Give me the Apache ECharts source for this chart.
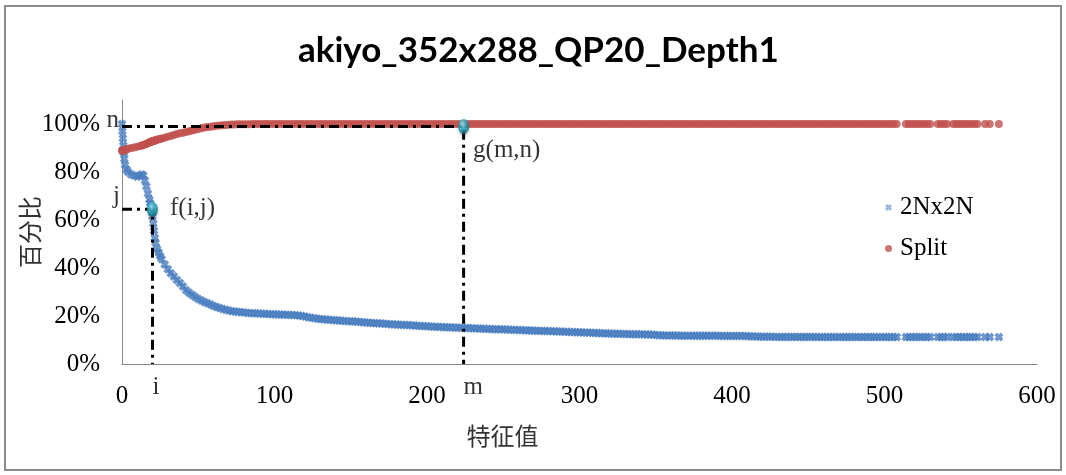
<!DOCTYPE html>
<html>
<head>
<meta charset="utf-8">
<script src="https://cdn.jsdelivr.net/npm/echarts@6/dist/echarts.min.js"></script>
<style>
  html, body { margin: 0; padding: 0; background: #ffffff; }
  #chart { width: 1066px; height: 475px; }
</style>
</head>
<body>
<div id="chart"></div>
<script>
// Feature value (x) shared by both series
const featureX = [
  0, 0.3, 0.6, 0.9, 1.2, 1.5, 2, 3, 4, 6,
  8, 10, 12, 13, 14, 15, 16, 17, 18, 18.5,
  19, 19.5, 20, 20.5, 21, 21.5, 22, 23, 24, 25,
  26, 28, 30, 32, 34, 36, 38, 40, 42, 44,
  46, 48, 50, 52, 54, 56, 58, 60, 62, 64,
  66, 68, 70, 72, 74, 76, 78, 80, 82, 84,
  86, 88, 90, 92, 94, 96, 98, 100, 102, 104,
  106, 108, 110, 112, 114, 116, 118, 120, 122, 124,
  126, 128, 130, 132, 134, 136, 138, 140, 142, 144,
  146, 148, 150, 152, 154, 156, 158, 160, 162, 164,
  166, 168, 170, 172, 174, 176, 178, 180, 182, 184,
  186, 188, 190, 192, 194, 196, 198, 200, 202, 204,
  206, 208, 210, 212, 214, 216, 218, 220, 222, 224,
  226, 228, 230, 232, 234, 236, 238, 240, 242, 244,
  246, 248, 250, 252, 254, 256, 258, 260, 262, 264,
  266, 268, 270, 272, 274, 276, 278, 280, 282, 284,
  286, 288, 290, 292, 294, 296, 298, 300, 302, 304,
  306, 308, 310, 312, 314, 316, 318, 320, 322, 324,
  326, 328, 330, 332, 334, 336, 338, 340, 342, 344,
  346, 348, 350, 352, 354, 356, 358, 360, 362, 364,
  366, 368, 370, 372, 374, 376, 378, 380, 382, 384,
  386, 388, 390, 392, 394, 396, 398, 400, 402, 404,
  406, 408, 410, 412, 414, 416, 418, 420, 422, 424,
  426, 428, 430, 432, 434, 436, 438, 440, 442, 444,
  446, 448, 450, 452, 454, 456, 458, 460, 462, 464,
  466, 468, 470, 472, 474, 476, 478, 480, 482, 484,
  486, 488, 490, 492, 494, 496, 498, 500, 502, 504,
  506, 508,
  514, 516, 518, 520, 522, 524, 526, 528, 530, 535,
  537, 539, 541, 545, 547, 549, 551, 553, 555, 557,
  559, 561, 566, 569, 575
];

// Share of 2Nx2N decisions
const share2Nx2N = [
  1.00, 0.97, 0.94, 0.91, 0.88, 0.855, 0.83, 0.81, 0.80, 0.79,
  0.785, 0.78, 0.785, 0.79, 0.785, 0.765, 0.74, 0.71, 0.685, 0.67,
  0.655, 0.64, 0.615, 0.585, 0.555, 0.525, 0.505, 0.48, 0.465, 0.45,
  0.437, 0.415, 0.395, 0.378, 0.365, 0.35, 0.337, 0.323, 0.307, 0.297,
  0.288, 0.279, 0.271, 0.265, 0.258, 0.253, 0.248, 0.242, 0.237, 0.233,
  0.229, 0.226, 0.223, 0.220, 0.219, 0.217, 0.216, 0.215, 0.213, 0.212,
  0.211, 0.211, 0.210, 0.209, 0.209, 0.208, 0.207, 0.207, 0.206, 0.206,
  0.205, 0.205, 0.204, 0.204, 0.203, 0.202, 0.200, 0.198, 0.195, 0.193,
  0.191, 0.189, 0.187, 0.186, 0.185, 0.184, 0.183, 0.182, 0.181, 0.180,
  0.179, 0.178, 0.178, 0.177, 0.176, 0.175, 0.174, 0.173, 0.172, 0.171,
  0.170, 0.170, 0.169, 0.168, 0.167, 0.166, 0.165, 0.165, 0.164, 0.163,
  0.162, 0.162, 0.161, 0.160, 0.159, 0.158, 0.158, 0.157, 0.156, 0.155,
  0.155, 0.154, 0.154, 0.153, 0.153, 0.152, 0.152, 0.151, 0.151, 0.150,
  0.150, 0.149, 0.149, 0.148, 0.148, 0.147, 0.147, 0.146, 0.146, 0.145,
  0.145, 0.145, 0.144, 0.144, 0.143, 0.143, 0.142, 0.142, 0.141, 0.141,
  0.140, 0.140, 0.139, 0.139, 0.138, 0.138, 0.137, 0.137, 0.136, 0.136,
  0.135, 0.135, 0.134, 0.134, 0.133, 0.133, 0.132, 0.132, 0.131, 0.131,
  0.130, 0.130, 0.129, 0.129, 0.128, 0.128, 0.127, 0.127, 0.126, 0.126,
  0.126, 0.125, 0.125, 0.125, 0.124, 0.124, 0.124, 0.124, 0.123, 0.123,
  0.123, 0.122, 0.121, 0.120, 0.120, 0.119, 0.119, 0.119, 0.119, 0.119,
  0.118, 0.118, 0.118, 0.118, 0.118, 0.118, 0.118, 0.118, 0.118, 0.118,
  0.118, 0.118, 0.118, 0.117, 0.117, 0.117, 0.117, 0.117, 0.117, 0.117,
  0.117, 0.117, 0.116, 0.116, 0.115, 0.115, 0.114, 0.114, 0.114, 0.114,
  0.114, 0.113, 0.113, 0.113, 0.113, 0.113, 0.113, 0.113, 0.113, 0.113,
  0.113, 0.113, 0.113, 0.113, 0.113, 0.112, 0.112, 0.112, 0.112, 0.112,
  0.112, 0.112, 0.112, 0.112, 0.112, 0.112, 0.112, 0.112, 0.112, 0.112,
  0.112, 0.112, 0.112, 0.112, 0.112, 0.112, 0.112, 0.112, 0.112, 0.112,
  0.112, 0.112,
  0.112, 0.112, 0.112, 0.112, 0.112, 0.112, 0.112, 0.112, 0.112, 0.112,
  0.112, 0.112, 0.112, 0.112, 0.112, 0.112, 0.112, 0.112, 0.112, 0.112,
  0.112, 0.112, 0.112, 0.112, 0.112
];

// Share of Split decisions
const shareSplit = [
  0.89, 0.89, 0.89, 0.89, 0.89, 0.89, 0.892, 0.895, 0.897, 0.90,
  0.902, 0.905, 0.908, 0.91, 0.912, 0.915, 0.918, 0.92, 0.923, 0.925,
  0.926, 0.927, 0.928, 0.929, 0.93, 0.931, 0.932, 0.934, 0.936, 0.938,
  0.940, 0.943, 0.947, 0.950, 0.954, 0.958, 0.961, 0.964, 0.967, 0.970,
  0.973, 0.976, 0.979, 0.982, 0.985, 0.987, 0.989, 0.991, 0.993, 0.994,
  0.995, 0.996, 0.997, 0.998, 0.998, 0.999, 0.999, 0.999, 0.999, 0.999,
  1.0, 1.0, 1.0, 1.0, 1.0, 1.0, 1.0, 1.0, 1.0, 1.0,
  1.0, 1.0, 1.0, 1.0, 1.0, 1.0, 1.0, 1.0, 1.0, 1.0,
  1.0, 1.0, 1.0, 1.0, 1.0, 1.0, 1.0, 1.0, 1.0, 1.0,
  1.0, 1.0, 1.0, 1.0, 1.0, 1.0, 1.0, 1.0, 1.0, 1.0,
  1.0, 1.0, 1.0, 1.0, 1.0, 1.0, 1.0, 1.0, 1.0, 1.0,
  1.0, 1.0, 1.0, 1.0, 1.0, 1.0, 1.0, 1.0, 1.0, 1.0,
  1.0, 1.0, 1.0, 1.0, 1.0, 1.0, 1.0, 1.0, 1.0, 1.0,
  1.0, 1.0, 1.0, 1.0, 1.0, 1.0, 1.0, 1.0, 1.0, 1.0,
  1.0, 1.0, 1.0, 1.0, 1.0, 1.0, 1.0, 1.0, 1.0, 1.0,
  1.0, 1.0, 1.0, 1.0, 1.0, 1.0, 1.0, 1.0, 1.0, 1.0,
  1.0, 1.0, 1.0, 1.0, 1.0, 1.0, 1.0, 1.0, 1.0, 1.0,
  1.0, 1.0, 1.0, 1.0, 1.0, 1.0, 1.0, 1.0, 1.0, 1.0,
  1.0, 1.0, 1.0, 1.0, 1.0, 1.0, 1.0, 1.0, 1.0, 1.0,
  1.0, 1.0, 1.0, 1.0, 1.0, 1.0, 1.0, 1.0, 1.0, 1.0,
  1.0, 1.0, 1.0, 1.0, 1.0, 1.0, 1.0, 1.0, 1.0, 1.0,
  1.0, 1.0, 1.0, 1.0, 1.0, 1.0, 1.0, 1.0, 1.0, 1.0,
  1.0, 1.0, 1.0, 1.0, 1.0, 1.0, 1.0, 1.0, 1.0, 1.0,
  1.0, 1.0, 1.0, 1.0, 1.0, 1.0, 1.0, 1.0, 1.0, 1.0,
  1.0, 1.0, 1.0, 1.0, 1.0, 1.0, 1.0, 1.0, 1.0, 1.0,
  1.0, 1.0, 1.0, 1.0, 1.0, 1.0, 1.0, 1.0, 1.0, 1.0,
  1.0, 1.0, 1.0, 1.0, 1.0, 1.0, 1.0, 1.0, 1.0, 1.0,
  1.0, 1.0,
  1.0, 1.0, 1.0, 1.0, 1.0, 1.0, 1.0, 1.0, 1.0, 1.0,
  1.0, 1.0, 1.0, 1.0, 1.0, 1.0, 1.0, 1.0, 1.0, 1.0,
  1.0, 1.0, 1.0, 1.0, 1.0
];

// Threshold points: f(i,j) on the 2Nx2N curve, g(m,n) on the Split curve
const pointI = 20, pointJ = 0.645;
const pointM = 224, pointN = 0.99;

const seriesNames = ['2Nx2N', 'Split'];
const chartTitle = 'akiyo_352x288_QP20_Depth1';

const serif = '"Liberation Serif", "Times New Roman", serif';
const crossPath = 'path://M0,3 L3,0 L5,2 L7,0 L10,3 L8,5 L10,7 L7,10 L5,8 L3,10 L0,7 L2,5 Z';
const dashDot = [10, 5, 3, 5];

const pts2N = featureX.map((x, k) => [x, share2Nx2N[k]]);
const ptsSplit = featureX.map((x, k) => [x, shareSplit[k]]);

const chart = echarts.init(document.getElementById('chart'), null, { renderer: 'canvas' });

const option = {
  animation: false,
  backgroundColor: '#ffffff',
  title: {
    text: chartTitle,
    left: 293,
    top: 28,
    textStyle: { fontFamily: 'Lato, "Open Sans", sans-serif', fontWeight: 'bold', fontSize: 35, color: '#000000' }
  },
  graphic: [{
    type: 'rect',
    shape: { x: 5, y: 6, width: 1056, height: 464 },
    style: { fill: 'none', stroke: '#8c8c8c', lineWidth: 2 },
    silent: true
  }],
  legend: {
    orient: 'vertical',
    left: 880,
    top: 190,
    itemGap: 16,
    itemWidth: 7,
    itemHeight: 7,
    textStyle: { fontFamily: serif, fontSize: 25, color: '#000000', padding: [0, 0, 0, 3] },
    data: [
      { name: seriesNames[0], icon: crossPath, itemStyle: { color: '#86a8d6' } },
      { name: seriesNames[1], icon: 'circle' }
    ]
  },
  grid: { left: 122, right: 29, top: 100, bottom: 111, containLabel: false },
  xAxis: {
    type: 'value',
    min: 0, max: 600, interval: 100,
    name: '特征值',
    nameLocation: 'middle',
    nameGap: 60,
    nameMoveOverlap: false,
    nameTextStyle: { fontFamily: '"Noto Sans CJK SC", sans-serif', fontSize: 24, color: '#333333', padding: [0, 154, 0, 0] },
    axisLine: { show: true, lineStyle: { color: '#868686', width: 1 } },
    axisTick: { show: false },
    splitLine: { show: false },
    axisLabel: { fontFamily: serif, fontSize: 25, color: '#000000', margin: 20 }
  },
  yAxis: {
    type: 'value',
    min: 0, max: 1.1, interval: 0.2,
    name: '百分比',
    nameLocation: 'middle',
    nameGap: 80,
    nameMoveOverlap: false,
    nameTextStyle: { fontFamily: '"Noto Sans CJK SC", sans-serif', fontSize: 24, color: '#333333' },
    axisLine: { show: true, lineStyle: { color: '#868686', width: 1 } },
    axisTick: { show: false },
    splitLine: { show: false },
    axisLabel: {
      fontFamily: serif, fontSize: 25, color: '#000000', margin: 22,
      formatter: v => (v > 1.0001 ? '' : Math.round(v * 100) + '%')
    }
  },
  series: [
    {
      name: seriesNames[0],
      type: 'scatter',
      data: pts2N,
      symbol: crossPath,
      symbolSize: 9,
      itemStyle: { color: '#4a7ebf' },
      z: 2
    },
    {
      name: seriesNames[1],
      type: 'scatter',
      data: ptsSplit,
      symbol: 'circle',
      symbolSize: 8,
      itemStyle: { color: '#c0504d' },
      z: 3
    },
    {
      name: 'guideN',
      type: 'line',
      data: [[0, pointN], [pointM, pointN], [pointM, 0]],
      symbol: 'none',
      silent: true,
      lineStyle: { color: '#000000', width: 3, type: dashDot },
      z: 5
    },
    {
      name: 'guideJ',
      type: 'line',
      data: [[0, pointJ], [pointI, pointJ], [pointI, 0]],
      symbol: 'none',
      silent: true,
      lineStyle: { color: '#000000', width: 3, type: dashDot },
      z: 5
    },
    {
      name: 'keyPoints',
      type: 'scatter',
      silent: true,
      symbol: 'circle',
      symbolSize: [11, 15],
      z: 6,
      itemStyle: {
        color: {
          type: 'radial', x: 0.4, y: 0.35, r: 0.65,
          colorStops: [
            { offset: 0, color: '#b9f3ff' },
            { offset: 0.45, color: '#2fb8cf' },
            { offset: 1, color: '#0b6c7c' }
          ]
        },
        shadowColor: 'rgba(0,0,0,0.35)', shadowBlur: 3, shadowOffsetY: 2
      },
      label: {
        show: true,
        formatter: p => p.name,
        fontFamily: serif, fontSize: 25, color: '#000000'
      },
      data: [
        { name: 'f(i,j)', value: [pointI, pointJ], label: { position: 'right', distance: 12, offset: [0, -1] } },
        { name: 'g(m,n)', value: [pointM, pointN], label: { position: 'right', distance: 4, offset: [0, 24] } }
      ]
    },
    {
      name: 'axisMarks',
      type: 'scatter',
      silent: true,
      symbolSize: 0,
      z: 6,
      label: {
        show: true,
        position: 'inside',
        formatter: p => p.name,
        fontFamily: serif, fontSize: 25, color: '#000000'
      },
      data: [
        { name: 'n', value: [0, pointN], label: { align: 'right', offset: [-3, -6] } },
        { name: 'j', value: [0, pointJ], label: { align: 'right', offset: [-2, -13] } },
        { name: 'i', value: [pointI, 0], label: { align: 'left', offset: [0, 23] } },
        { name: 'm', value: [pointM, 0], label: { align: 'left', offset: [0, 23] } }
      ]
    }
  ]
};

chart.setOption(option);
</script>
</body>
</html>
